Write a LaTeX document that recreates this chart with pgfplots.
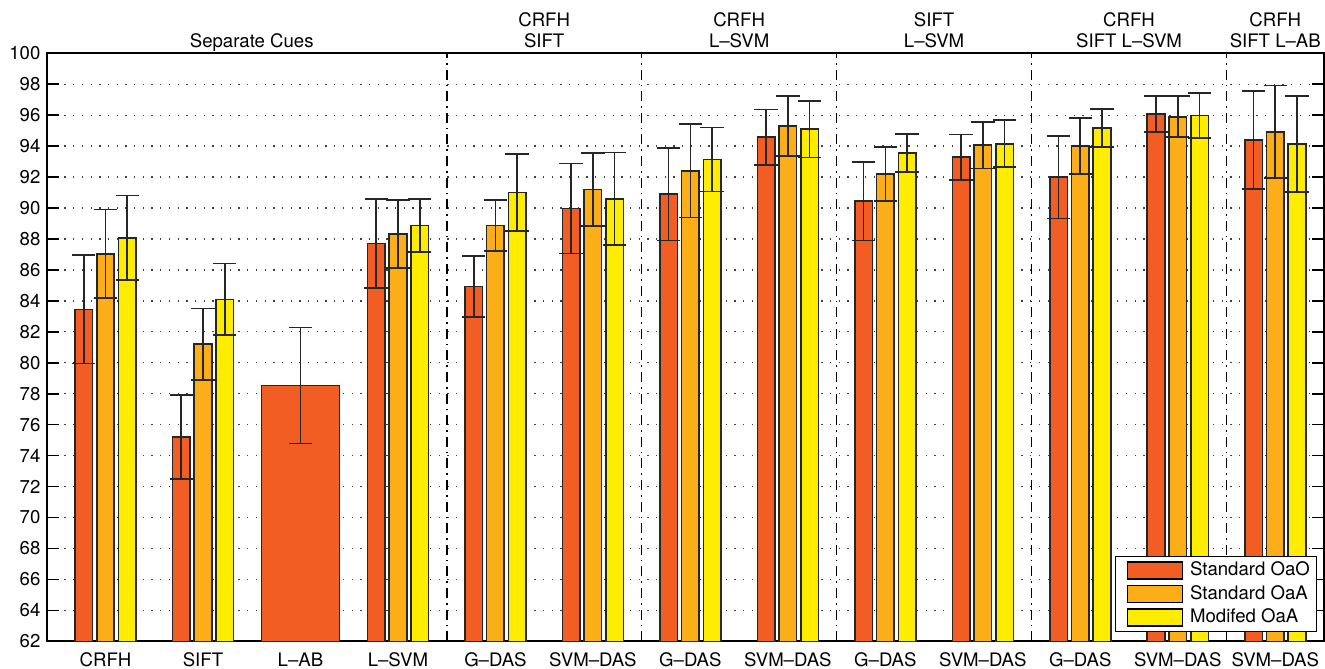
\documentclass[border=0pt]{standalone}
\usepackage{pgfplots}
\pgfplotsset{compat=1.18}
\usepackage{fontspec}
\setmainfont{TeX Gyre Heros}
\definecolor{cred}{HTML}{F15D22}
\definecolor{corange}{HTML}{FBAE17}
\definecolor{cyellow}{HTML}{FFED00}
\pgfplotsset{
  mybar/.style={ybar, bar width=0.18, bar shift=0, draw=black!85, line width=0.8pt,
    error bars/y dir=both, error bars/y explicit,
    error bars/error bar style={line width=0.85pt, black!85},
    error bars/error mark options={rotate=90, line width=0.85pt, mark size=5.85pt, black!85}},
}
\tikzset{divider/.style={line width=0.85pt, dash pattern=on 5pt off 2.5pt on 0.8pt off 2.5pt}}
\begin{document}
\fontsize{9.3}{11}\selectfont
\begin{tikzpicture}
\useasboundingbox (-23.5pt,-13.5pt) rectangle (639pt,320.65pt);
\begin{axis}[
  at={(0,0)}, anchor=south west,
  width=638.5pt, height=294pt, scale only axis,
  xmin=0.4, xmax=13.5, ymin=62, ymax=100,
  ytick={62,64,...,100},
  xtick={1,...,13},
  xticklabels={CRFH,SIFT,L--AB,L--SVM,G--DAS,SVM--DAS,G--DAS,SVM--DAS,G--DAS,SVM--DAS,G--DAS,SVM--DAS,SVM--DAS},
  x tick style={draw=none},
  y tick style={black, line width=0.8pt},
  major tick length=6pt,
  tick align=inside,
  ymajorgrids,
  grid style={black!75, line width=0.65pt, dash pattern=on 0.65pt off 3.7pt},
  axis line style={line width=1pt},
  clip mode=individual,
  /pgf/number format/assume math mode=true,
  tick label style={font=\fontsize{9.3}{11}\selectfont},
  xticklabel style={yshift=-2.5pt},
  legend cell align=left,
  legend style={at={(1,0)}, anchor=south east, xshift=-3.5pt, yshift=4.5pt,
    draw=black, line width=0.7pt, fill=white, inner xsep=2pt, inner ysep=1.5pt,
    row sep=0.75pt,
    nodes={inner sep=1.2pt, text height=6.8pt, text depth=1.8pt, font=\fontsize{9.3}{11}\selectfont}},
]
% Standard OaO (bars at category - 0.223)
\addplot[mybar, fill=cred,
  legend image code/.code={\path (0pt,0pt) (33.3pt,0pt); \draw[fill=cred, draw=black, line width=0.7pt] (3.5pt,-4.25pt) rectangle (31pt,4.25pt);}]
  coordinates {
  (0.777,83.45) +- (0,3.5)
  (1.777,75.2) +- (0,2.72)
  (3.777,87.72) +- (0,2.87)
  (4.777,84.94) +- (0,1.96)
  (5.777,89.97) +- (0,2.9)
  (6.777,90.89) +- (0,2.98)
  (7.777,94.58) +- (0,1.78)
  (8.777,90.44) +- (0,2.53)
  (9.777,93.29) +- (0,1.47)
  (10.777,91.99) +- (0,2.66)
  (11.777,96.07) +- (0,1.17)
  (12.777,94.39) +- (0,3.17)
  };
% Standard OaA (bars at category)
\addplot[mybar, fill=corange,
  legend image code/.code={\path (0pt,0pt) (33.3pt,0pt); \draw[fill=corange, draw=black, line width=0.7pt] (3.5pt,-4.25pt) rectangle (31pt,4.25pt);}]
  coordinates {
  (1,87.04) +- (0,2.87)
  (2,81.2) +- (0,2.3)
  (4,88.32) +- (0,2.2)
  (5,88.87) +- (0,1.65)
  (6,91.2) +- (0,2.37)
  (7,92.4) +- (0,3.02)
  (8,95.31) +- (0,1.93)
  (9,92.19) +- (0,1.75)
  (10,94.06) +- (0,1.5)
  (11,94.0) +- (0,1.8)
  (12,95.9) +- (0,1.33)
  (13,94.93) +- (0,2.99)
  };
% Modifed OaA (bars at category + 0.223)
\addplot[mybar, fill=cyellow,
  legend image code/.code={\path (0pt,0pt) (33.3pt,0pt); \draw[fill=cyellow, draw=black, line width=0.7pt] (3.5pt,-4.25pt) rectangle (31pt,4.25pt);}]
  coordinates {
  (1.223,88.07) +- (0,2.74)
  (2.223,84.1) +- (0,2.32)
  (4.223,88.87) +- (0,1.72)
  (5.223,91.0) +- (0,2.49)
  (6.223,90.59) +- (0,2.99)
  (7.223,93.14) +- (0,2.07)
  (8.223,95.1) +- (0,1.83)
  (9.223,93.57) +- (0,1.23)
  (10.223,94.15) +- (0,1.52)
  (11.223,95.17) +- (0,1.23)
  (12.223,95.98) +- (0,1.47)
  (13.223,94.13) +- (0,3.11)
  };
% L-AB (single wide bar)
\addplot[mybar, bar width=0.8, fill=cred, forget plot]
  coordinates {(3,78.53) +- (0,3.74)};
\legend{Standard OaO,Standard OaA,Modifed OaA}
\draw[divider] (axis cs:4.5,62) -- (axis cs:4.5,100);
\draw[divider] (axis cs:6.5,62) -- (axis cs:6.5,100);
\draw[divider] (axis cs:8.5,62) -- (axis cs:8.5,100);
\draw[divider] (axis cs:10.5,62) -- (axis cs:10.5,100);
\draw[divider] (axis cs:12.5,62) -- (axis cs:12.5,100);
\node[anchor=base, yshift=2.8pt] at (axis cs:2.5,100) {Separate Cues};
\node[anchor=base, yshift=13.6pt] at (axis cs:5.5,100) {CRFH};
\node[anchor=base, yshift=2.8pt] at (axis cs:5.5,100) {SIFT};
\node[anchor=base, yshift=13.6pt] at (axis cs:7.5,100) {CRFH};
\node[anchor=base, yshift=2.8pt] at (axis cs:7.5,100) {L--SVM};
\node[anchor=base, yshift=13.6pt] at (axis cs:9.5,100) {SIFT};
\node[anchor=base, yshift=2.8pt] at (axis cs:9.5,100) {L--SVM};
\node[anchor=base, yshift=13.6pt] at (axis cs:11.5,100) {CRFH};
\node[anchor=base, yshift=2.8pt] at (axis cs:11.5,100) {SIFT L--SVM};
\node[anchor=base, yshift=13.6pt] at (axis cs:13,100) {CRFH};
\node[anchor=base, yshift=2.8pt] at (axis cs:13,100) {SIFT L--AB};
\end{axis}
\end{tikzpicture}
\end{document}
